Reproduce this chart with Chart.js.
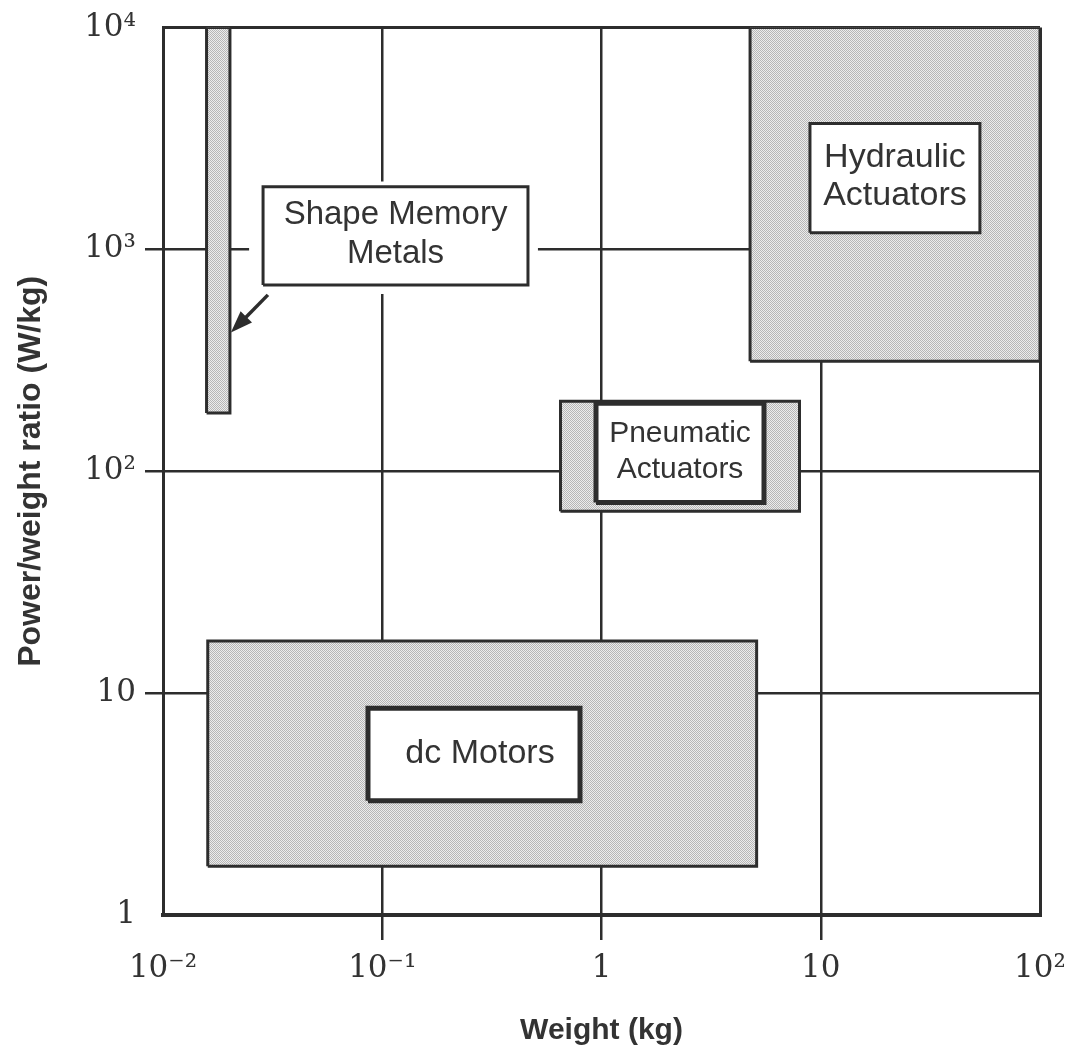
<!DOCTYPE html>
<html><head><meta charset="utf-8">
<script src="https://cdn.jsdelivr.net/npm/chart.js@4/dist/chart.umd.min.js"></script>
<style>html,body{margin:0;padding:0;background:#fff;}#wrap{width:1076px;height:1058px;}</style>
</head><body><div id="wrap"><canvas id="c" width="1076" height="1058"></canvas></div>
<script>
// ---- data ----
const xTickValues = [0.01, 0.1, 1, 10, 100];
const xTickLabels = ['10\u207B\u00B2', '10\u207B\u00B9', '1', '10', '10\u00B2'];
const yTickValues = [1, 10, 100, 1000, 10000];
const yTickLabels = ['1', '10', '10\u00B2', '10\u00B3', '10\u2074'];

const technologies = ['Shape Memory Metals', 'Hydraulic Actuators', 'Pneumatic Actuators', 'dc Motors'];
const weightMin = [0.0158, 4.76, 0.65, 0.016];
const weightMax = [0.0202, 100, 8.0, 5.1];
const ratioMin  = [183, 313, 66, 1.66];
const ratioMax  = [10000, 10000, 207, 17.2];

const labelLines = [['Shape Memory', 'Metals'], ['Hydraulic', 'Actuators'], ['Pneumatic', 'Actuators'], ['dc Motors']];
// label boxes (data coordinates)
const labelWeightMin = [0.0286, 8.93, 0.944, 0.0861];
const labelWeightMax = [0.462, 53.2, 5.51, 0.798];
const labelRatioMin  = [692, 1190, 72.3, 3.27];
const labelRatioMax  = [1919, 3700, 202.8, 8.55];
// white clearing around the Shape Memory Metals label
const clearWeight = [0.0247, 0.513];
const clearRatio  = [630, 2022];
// arrow from label to bar (data coordinates)
const arrowFrom = {x: 0.0301, y: 624};
const arrowTo   = {x: 0.0204, y: 422};

// ---- styles ----
const INK = '#2d2d2d';
const labelBorder = [3, 3, 5, 5];
const labelFont = [33, 34, 30, 34];
const labelLineGap = [39, 38, 36, 0];

function makeStipple() {
  const c = document.createElement('canvas'); c.width = 4; c.height = 4;
  const g = c.getContext('2d');
  g.fillStyle = '#ececec'; g.fillRect(0, 0, 4, 4);
  g.fillStyle = '#b6b6b6';
  for (let y = 0; y < 4; y++) for (let x = 0; x < 4; x++) if ((x + y) % 2 === 0) g.fillRect(x, y, 1, 1);
  return g.createPattern(c, 'repeat');
}
const stipple = makeStipple();

function rectPts(x0, x1, y0, y1) {
  return [{x: x0, y: y0}, {x: x1, y: y0}, {x: x1, y: y1}, {x: x0, y: y1}, {x: x0, y: y0}];
}

const datasets = [];
technologies.forEach((t, i) => {
  datasets.push({
    label: t,
    data: rectPts(weightMin[i], weightMax[i], ratioMin[i], ratioMax[i]),
    showLine: true, fill: 'shape', backgroundColor: stipple,
    borderColor: INK, borderWidth: 3, borderJoinStyle: 'miter',
    pointRadius: 0, tension: 0, order: 3
  });
});
datasets.push({
  label: 'clear',
  data: rectPts(clearWeight[0], clearWeight[1], clearRatio[0], clearRatio[1]),
  showLine: true, fill: 'shape', backgroundColor: '#ffffff',
  borderColor: 'rgba(0,0,0,0)', borderWidth: 0, pointRadius: 0, order: 2
});
technologies.forEach((t, i) => {
  datasets.push({
    label: t + ' label',
    data: rectPts(labelWeightMin[i], labelWeightMax[i], labelRatioMin[i], labelRatioMax[i]),
    showLine: true, fill: 'shape', backgroundColor: '#ffffff',
    borderColor: INK, borderWidth: labelBorder[i], borderJoinStyle: 'miter',
    pointRadius: 0, tension: 0, order: 1
  });
});

const textPlugin = {
  id: 'labels',
  afterDatasetsDraw(chart) {
    const {ctx, scales: {x, y}} = chart;
    ctx.save();
    ctx.fillStyle = '#333';
    ctx.textAlign = 'center';
    ctx.textBaseline = 'middle';
    technologies.forEach((t, i) => {
      const cx = (x.getPixelForValue(labelWeightMin[i]) + x.getPixelForValue(labelWeightMax[i])) / 2;
      const cy = (y.getPixelForValue(labelRatioMin[i]) + y.getPixelForValue(labelRatioMax[i])) / 2;
      ctx.font = labelFont[i] + 'px "Liberation Sans", Arial, sans-serif';
      const lines = labelLines[i];
      const n = lines.length;
      lines.forEach((ln, k) => {
        ctx.fillText(ln, cx + (i === 3 ? 6 : 0), cy + (k - (n - 1) / 2) * labelLineGap[i] - 1);
      });
    });
    // arrow
    const x1 = x.getPixelForValue(arrowFrom.x), y1 = y.getPixelForValue(arrowFrom.y);
    const x2 = x.getPixelForValue(arrowTo.x), y2 = y.getPixelForValue(arrowTo.y);
    const ang = Math.atan2(y2 - y1, x2 - x1);
    const hl = 22, hw = 8;
    ctx.strokeStyle = INK; ctx.lineWidth = 3.5;
    ctx.beginPath(); ctx.moveTo(x1, y1);
    ctx.lineTo(x2 - Math.cos(ang) * hl * 0.8, y2 - Math.sin(ang) * hl * 0.8); ctx.stroke();
    ctx.fillStyle = INK;
    ctx.beginPath();
    ctx.moveTo(x2, y2);
    ctx.lineTo(x2 - Math.cos(ang) * hl + Math.sin(ang) * hw, y2 - Math.sin(ang) * hl - Math.cos(ang) * hw);
    ctx.lineTo(x2 - Math.cos(ang) * hl - Math.sin(ang) * hw, y2 - Math.sin(ang) * hl + Math.cos(ang) * hw);
    ctx.closePath(); ctx.fill();
    ctx.restore();
  }
};

function gridColor(ctx) { return INK; }
function edgeTick(n) { return (ctx) => (ctx.index === 0 || ctx.index === n - 1) ? 'rgba(0,0,0,0)' : INK; }
function edgeWidth(n) { return (ctx) => (ctx.index === 0 || ctx.index === n - 1) ? 3 : 2.5; }

new Chart(document.getElementById('c'), {
  type: 'scatter',
  data: {datasets},
  options: {
    responsive: false, animation: false, devicePixelRatio: 1,
    layout: {padding: {top: 22, right: 36, left: 0, bottom: 0}},
    plugins: {legend: {display: false}, tooltip: {enabled: false}},
    scales: {
      x: {
        type: 'logarithmic', min: 0.01, max: 100, position: 'bottom',
        afterBuildTicks: (s) => { s.ticks = xTickValues.map(v => ({value: v})); },
        afterFit: (s) => { s.height = 143; },
        ticks: {
          autoSkip: false, maxRotation: 0, padding: 10, color: '#333',
          font: {family: '"DejaVu Serif", serif', size: 31},
          callback: (v) => xTickLabels[xTickValues.indexOf(v)]
        },
        grid: {color: gridColor, lineWidth: edgeWidth(5), tickLength: 25, tickColor: edgeTick(5), tickWidth: 2.5},
        border: {color: INK, width: 4},
        title: {display: true, text: 'Weight (kg)', color: '#333',
          font: {family: '"Liberation Sans", Arial, sans-serif', weight: 'bold', size: 30},
          padding: {top: 0, bottom: 9}}
      },
      y: {
        type: 'logarithmic', min: 1, max: 10000, position: 'left',
        afterBuildTicks: (s) => { s.ticks = yTickValues.map(v => ({value: v})); },
        afterFit: (s) => { s.width = 163; },
        ticks: {
          autoSkip: false, padding: 9, color: '#333',
          font: {family: '"DejaVu Serif", serif', size: 31},
          callback: (v) => yTickLabels[yTickValues.indexOf(v)]
        },
        grid: {color: gridColor, lineWidth: edgeWidth(5), tickLength: 18, tickColor: edgeTick(5), tickWidth: 2.5},
        border: {color: INK, width: 3},
        title: {display: true, text: 'Power/weight ratio (W/kg)', color: '#333',
          font: {family: '"Liberation Sans", Arial, sans-serif', weight: 'bold', size: 32},
          padding: {top: 12, bottom: 0}}
      }
    }
  },
  plugins: [textPlugin]
});
</script></body></html>
